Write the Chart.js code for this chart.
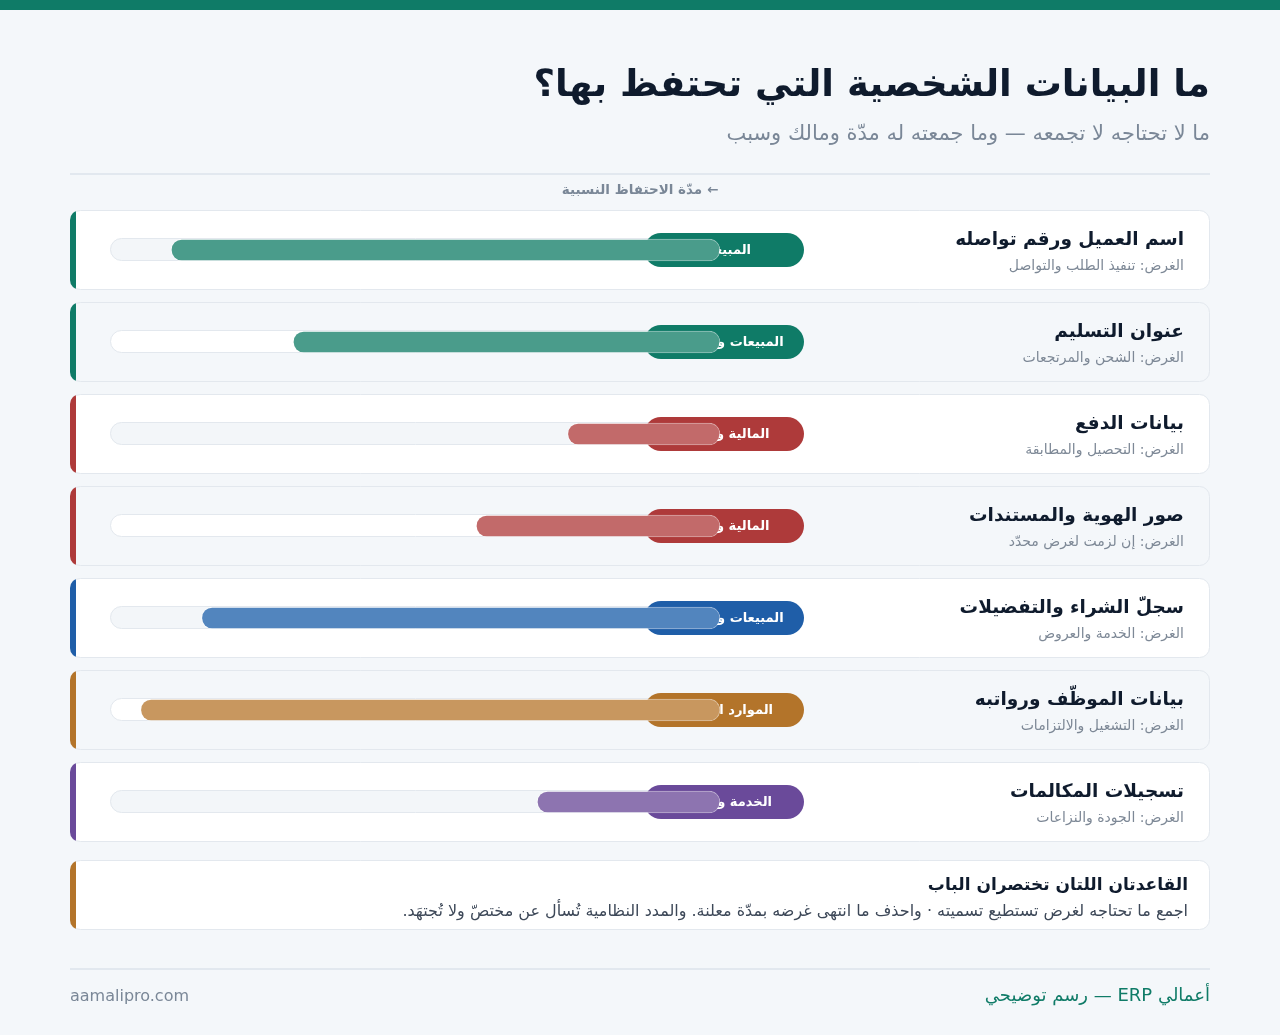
<!DOCTYPE html>
<html lang="ar" dir="rtl">
<head>
<meta charset="utf-8">
<title>ما البيانات الشخصية التي تحتفظ بها؟</title>
<script src="https://cdn.jsdelivr.net/npm/chart.js@4.4.1/dist/chart.umd.min.js"></script>
<style>
  html, body { margin: 0; padding: 0; background: #f4f7fa; }
  #wrap { position: relative; width: 1280px; height: 1035px; }
</style>
</head>
<body>
<div id="wrap"><canvas id="retentionChart" width="1280" height="1035"></canvas></div>
<script>
// البيانات
const categories = ['اسم العميل ورقم تواصله', 'عنوان التسليم', 'بيانات الدفع', 'صور الهوية والمستندات', 'سجلّ الشراء والتفضيلات', 'بيانات الموظّف ورواتبه', 'تسجيلات المكالمات'];
const purposes = ['الغرض: تنفيذ الطلب والتواصل', 'الغرض: الشحن والمرتجعات', 'الغرض: التحصيل والمطابقة', 'الغرض: إن لزمت لغرض محدّد', 'الغرض: الخدمة والعروض', 'الغرض: التشغيل والالتزامات', 'الغرض: الجودة والنزاعات'];
const owners = ['المبيعات', 'المبيعات والتسويق', 'المالية والزكاة', 'المالية والزكاة', 'المبيعات والتسويق', 'الموارد البشرية', 'الخدمة والجودة'];
const retention = [90, 70, 25, 40, 85, 95, 30]; // مدّة نسبية من 100

// الألوان
const ownerColors = ['#0f7b67', '#0f7b67', '#ae3a3a', '#ae3a3a', '#1f5ea8', '#b3742a', '#6a4a9a'];
const barColors = ['#4a9c8b', '#4a9c8b', '#c26a6a', '#c26a6a', '#5285be', '#c8975f', '#8d74b0'];

const FONT = '"DejaVu Sans", "Noto Sans", sans-serif';

function roundRect(ctx, x, y, w, h, r) {
    ctx.beginPath();
    ctx.moveTo(x + r, y);
    ctx.arcTo(x + w, y, x + w, y + h, r);
    ctx.arcTo(x + w, y + h, x, y + h, r);
    ctx.arcTo(x, y + h, x, y, r);
    ctx.arcTo(x, y, x + w, y, r);
    ctx.closePath();
}

// خلفية الصفحة والبطاقات
const cardsPlugin = {
    id: 'cards',
    beforeDraw(chart) {
        const ctx = chart.ctx;
        const yScale = chart.scales.y;
        ctx.save();
        ctx.fillStyle = '#f4f7fa';
        ctx.fillRect(0, 0, chart.width, chart.height);
        ctx.fillStyle = '#0f7b67';
        ctx.fillRect(0, 0, chart.width, 10);

        // خط فاصل
        ctx.fillStyle = '#e2e8ef';
        ctx.fillRect(70, 173, 1140, 2);

        categories.forEach((c, i) => {
            const cy = yScale.getPixelForValue(i);
            const top = cy - 40;
            roundRect(ctx, 70.5, top + 0.5, 1139, 79, 10);
            ctx.fillStyle = i % 2 === 0 ? '#ffffff' : '#f4f7fa';
            ctx.fill();
            ctx.strokeStyle = '#e3e8ee';
            ctx.lineWidth = 1;
            ctx.stroke();
            // الشريط الجانبي
            ctx.save();
            roundRect(ctx, 70, top, 1140, 80, 10);
            ctx.clip();
            ctx.fillStyle = ownerColors[i];
            roundRect(ctx, 70, top, 6, 80, 3);
            ctx.fill();
            ctx.restore();

            // المسار
            const x0 = chart.scales.x.getPixelForValue(100);
            const x1 = chart.scales.x.getPixelForValue(0);
            roundRect(ctx, x0 + 0.5, cy - 11.5, x1 - x0, 22, 11);
            ctx.fillStyle = i % 2 === 0 ? '#f3f6f9' : '#ffffff';
            ctx.fill();
            ctx.strokeStyle = '#e3e8ee';
            ctx.stroke();
        });

        // بطاقة القاعدتين
        roundRect(ctx, 70.5, 860.5, 1139, 69, 10);
        ctx.fillStyle = '#ffffff';
        ctx.fill();
        ctx.strokeStyle = '#e3e8ee';
        ctx.stroke();
        ctx.save();
        roundRect(ctx, 70, 860, 1140, 70, 10);
        ctx.clip();
        ctx.fillStyle = '#b3742a';
        roundRect(ctx, 70, 860, 6, 70, 3);
        ctx.fill();
        ctx.restore();

        // خط التذييل
        ctx.fillStyle = '#e2e8ef';
        ctx.fillRect(70, 968, 1140, 2);
        ctx.restore();
    },
    // شارات الجهة المالكة تحت الأعمدة
    beforeDatasetsDraw(chart) {
        const ctx = chart.ctx;
        const yScale = chart.scales.y;
        const base = chart.scales.x.getPixelForValue(0);
        ctx.save();
        ctx.direction = 'rtl';
        owners.forEach((o, i) => {
            const cy = yScale.getPixelForValue(i);
            ctx.save();
            roundRect(ctx, base - 76, cy - 17, 160, 34, 17);
            ctx.fillStyle = ownerColors[i];
            ctx.fill();
            ctx.clip();
            ctx.fillStyle = '#ffffff';
            ctx.font = 'bold 13px ' + FONT;
            ctx.textAlign = 'center';
            ctx.textBaseline = 'middle';
            ctx.fillText(o, base + 4, cy + 1);
            ctx.restore();
        });
        ctx.restore();
    },
    afterDraw(chart) {
        const ctx = chart.ctx;
        const yScale = chart.scales.y;
        ctx.save();
        ctx.direction = 'rtl';
        ctx.textBaseline = 'alphabetic';

        ctx.textAlign = 'right';
        ctx.fillStyle = '#0f1b2d';
        ctx.font = 'bold 37px ' + FONT;
        ctx.fillText('ما البيانات الشخصية التي تحتفظ بها؟', 1210, 96);
        ctx.fillStyle = '#7a8797';
        ctx.font = '21px ' + FONT;
        ctx.fillText('ما لا تحتاجه لا تجمعه — وما جمعته له مدّة ومالك وسبب', 1210, 140);

        ctx.textAlign = 'center';
        ctx.fillStyle = '#7a8797';
        ctx.font = 'bold 13.5px ' + FONT;
        ctx.fillText('← مدّة الاحتفاظ النسبية', 640, 194);

        categories.forEach((c, i) => {
            const cy = yScale.getPixelForValue(i);
            ctx.textAlign = 'right';
            ctx.fillStyle = '#0f1b2d';
            ctx.font = 'bold 18.5px ' + FONT;
            ctx.fillText(c, 1184, cy - 5);
            ctx.fillStyle = '#7d8896';
            ctx.font = '14px ' + FONT;
            ctx.fillText(purposes[i], 1184, cy + 20);
        });

        ctx.textAlign = 'right';
        ctx.fillStyle = '#0f1b2d';
        ctx.font = 'bold 17px ' + FONT;
        ctx.fillText('القاعدتان اللتان تختصران الباب', 1188, 890);
        ctx.fillStyle = '#3d4858';
        ctx.font = '16px ' + FONT;
        ctx.fillText('اجمع ما تحتاجه لغرض تستطيع تسميته · واحذف ما انتهى غرضه بمدّة معلنة. والمدد النظامية تُسأل عن مختصّ ولا تُجتهَد.', 1188, 916);

        ctx.fillStyle = '#0f7b67';
        ctx.font = '18px ' + FONT;
        ctx.fillText('أعمالي ERP — رسم توضيحي', 1210, 1001);
        ctx.direction = 'ltr';
        ctx.textAlign = 'left';
        ctx.fillStyle = '#7a8797';
        ctx.font = '16px ' + FONT;
        ctx.fillText('aamalipro.com', 70, 1001);
        ctx.restore();
    }
};

const ctxRet = document.getElementById('retentionChart').getContext('2d');
let retentionChart = new Chart(ctxRet, {
    type: 'bar',
    data: {
        labels: categories,
        datasets: [{
            label: 'مدّة الاحتفاظ النسبية',
            data: retention,
            backgroundColor: barColors,
            borderColor: 'rgba(255,255,255,0.55)',
            borderWidth: 1,
            borderSkipped: false,
            borderRadius: 11,
            barThickness: 22
        }]
    },
    options: {
        indexAxis: 'y',
        responsive: false,
        animation: false,
        layout: { padding: { left: 110, right: 560, top: 204, bottom: 187 } },
        scales: {
            x: { display: false, reverse: true, min: 0, max: 100 },
            y: { display: false, offset: true }
        },
        plugins: {
            legend: { display: false },
            tooltip: { enabled: false }
        }
    },
    plugins: [cardsPlugin]
});
</script>
</body>
</html>
